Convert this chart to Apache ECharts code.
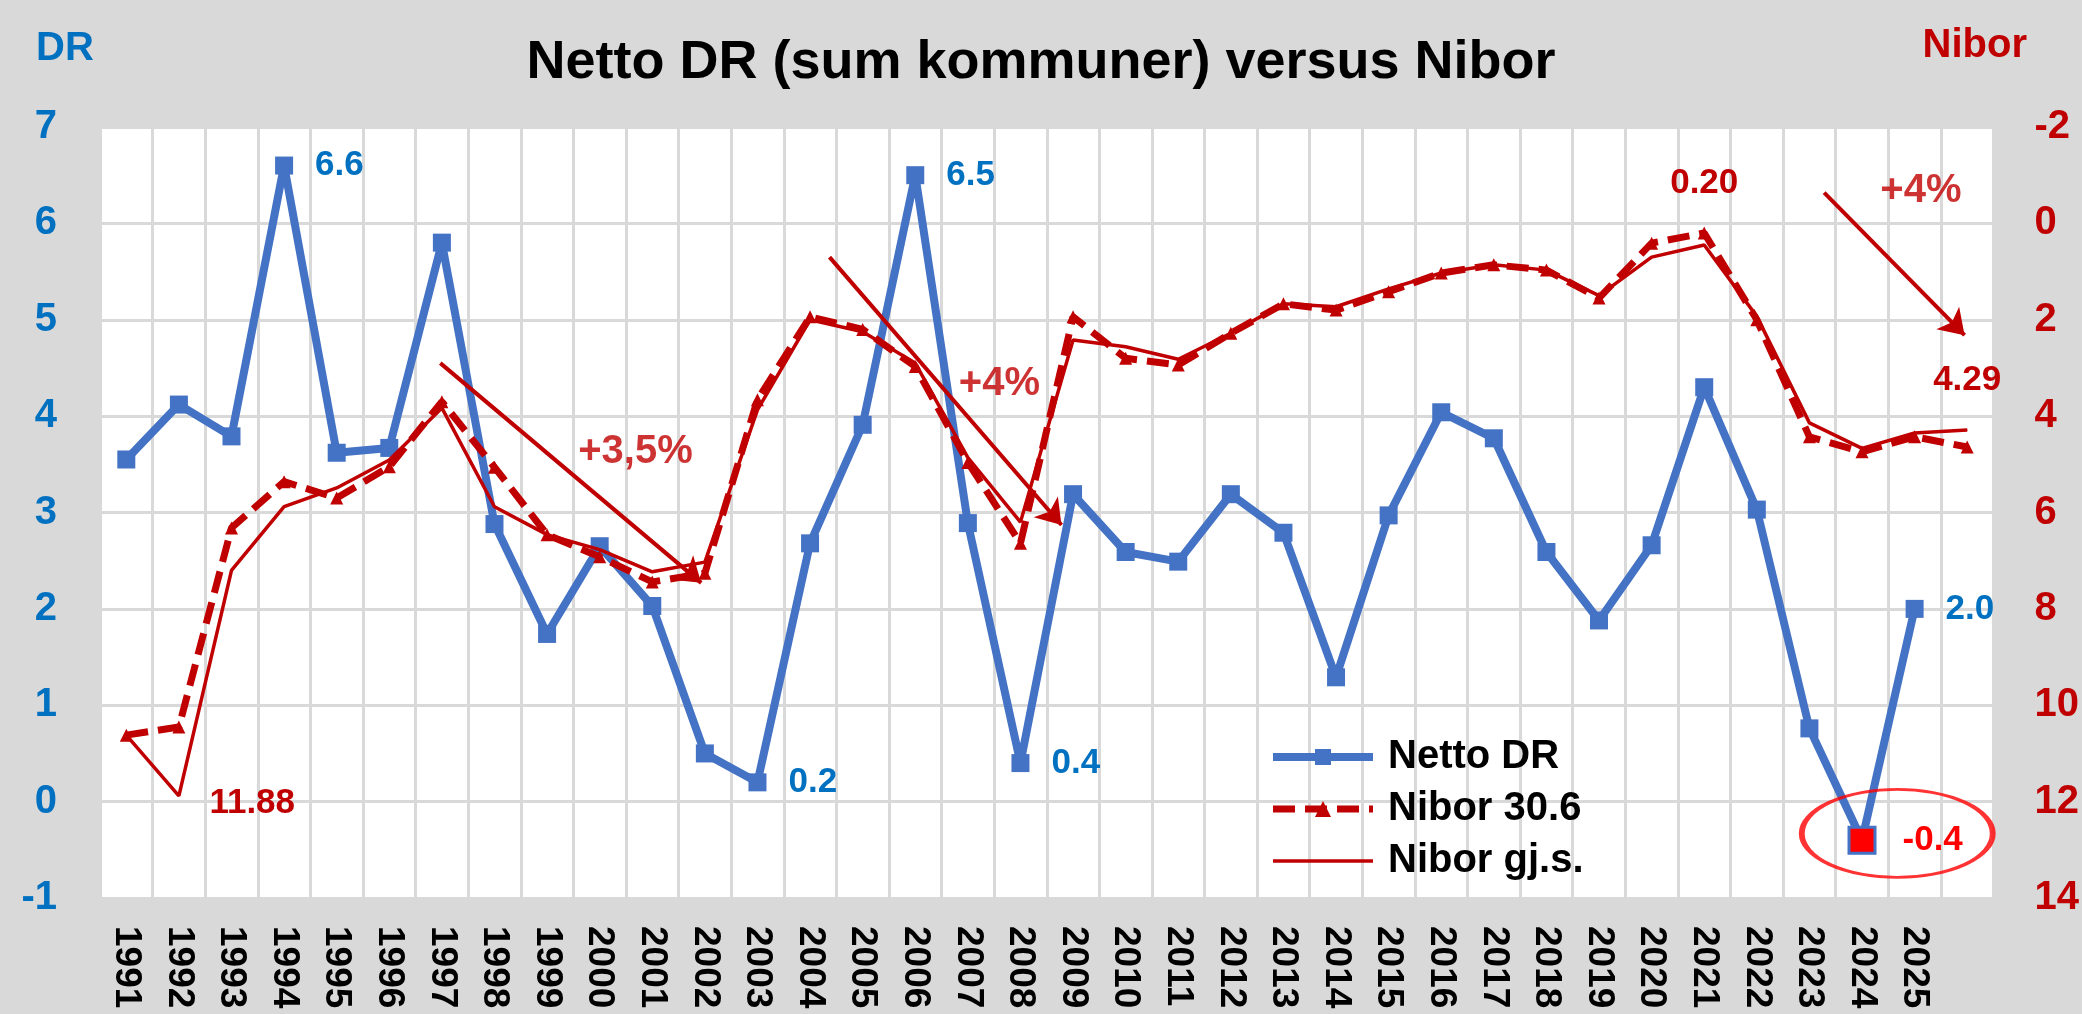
<!DOCTYPE html>
<html>
<head>
<meta charset="utf-8">
<title>Netto DR versus Nibor</title>
<script src="https://cdn.jsdelivr.net/npm/echarts@6/dist/echarts.min.js"></script>
<style>
  html, body { margin: 0; padding: 0; background: #d9d9d9; }
  #chart { width: 2082px; height: 1014px; }
</style>
</head>
<body>
<div id="chart"></div>
<script>
// kategorier (siste kolonne er uten etikett, bare Nibor har verdi der)
const years = ['1991', '1992', '1993', '1994', '1995', '1996', '1997', '1998', '1999', '2000',
  '2001', '2002', '2003', '2004', '2005', '2006', '2007', '2008', '2009', '2010',
  '2011', '2012', '2013', '2014', '2015', '2016', '2017', '2018', '2019', '2020',
  '2021', '2022', '2023', '2024', '2025', '']

// netto driftsresultat, sum kommuner (venstre akse)
const nettoDR = [3.55, 4.12, 3.79, 6.6, 3.62, 3.67, 5.8, 2.88, 1.74, 2.65,
  2.03, 0.5, 0.2, 2.68, 3.91, 6.5, 2.89, 0.4, 3.19, 2.59,
  2.49, 3.19, 2.79, 1.29, 2.97, 4.04, 3.77, 2.59, 1.88, 2.66,
  4.3, 3.03, 0.76, -0.4, 2.0, null]

// Nibor per 30.6 (hoyre akse, invertert)
const nibor306 = [10.62, 10.45, 6.32, 5.36, 5.7, 5.05, 3.7, 5.06, 6.46, 6.92,
  7.44, 7.26, 3.66, 1.94, 2.2, 2.97, 4.96, 6.64, 1.94, 2.8,
  2.94, 2.28, 1.67, 1.8, 1.42, 1.03, 0.86, 0.97, 1.55, 0.41,
  0.20, 2.0, 4.43, 4.74, 4.43, 4.64]

// Nibor gjennomsnitt
const niborSnitt = [10.62, 11.88, 7.2, 5.88, 5.49, 4.91, 3.83, 5.88, 6.46, 6.77,
  7.23, 7.03, 3.87, 2.0, 2.25, 2.9, 4.86, 6.2, 2.42, 2.56,
  2.82, 2.28, 1.67, 1.73, 1.36, 1.03, 0.86, 0.97, 1.5, 0.7,
  0.45, 1.93, 4.14, 4.67, 4.35, 4.29]

// akser
const drMin = -1, drMax = 7, drStep = 1
const niborMin = -2, niborMax = 14, niborStep = 2

// punkter med verdietikett
const drLabelYears = ['1994', '2003', '2006', '2008', '2025']
const drHighlightYear = '2024'
const nibor306LabelYears = ['2021']
const niborSnittLabelYears = ['1992']
const niborSnittTopLabelIdx = years.length - 1

// piler og tekst (x = kategori-indeks, y = DR-enhet)
const trendArrows = [
  [5.97, 4.55, 10.93, 2.27],
  [13.37, 5.65, 17.78, 2.87],
  [32.28, 6.32, 34.95, 4.84]
]
const trendTexts = [
  ['+3,5%', 9.68, 3.63],
  ['+4%', 16.6, 4.33],
  ['+4%', 34.12, 6.34]
]
const circledPoint = [33.67, -0.33]

const FONT = '"Liberation Sans", Arial, sans-serif'
const BLUE = '#4472c4'
const DARKRED = '#c00000'

const chart = echarts.init(document.getElementById('chart'), null, { renderer: 'canvas' })

const drData = nettoDR.map(function (v, i) {
  if (years[i] === drHighlightYear) {
    return {
      value: v,
      symbolSize: 26,
      itemStyle: { color: '#ff0000', borderColor: BLUE, borderWidth: 3 },
      label: { show: true, distance: 26, color: '#ff0000' }
    }
  }
  if (drLabelYears.indexOf(years[i]) >= 0) {
    return { value: v, label: { show: true } }
  }
  return v
})

const dashedData = nibor306.map(function (v, i) {
  if (nibor306LabelYears.indexOf(years[i]) >= 0) {
    return { value: v, label: { show: true } }
  }
  return v
})

const solidData = niborSnitt.map(function (v, i) {
  if (niborSnittLabelYears.indexOf(years[i]) >= 0) {
    return { value: v, symbol: 'circle', symbolSize: 1, label: { show: true, position: 'right', distance: 30, offset: [0, 8] } }
  }
  if (i === niborSnittTopLabelIdx) {
    return { value: v, symbol: 'circle', symbolSize: 1, label: { show: true, position: 'top', distance: 32 } }
  }
  return v
})

const option = {
  animation: false,
  backgroundColor: '#d9d9d9',
  textStyle: { fontFamily: FONT },
  title: [
    {
      text: 'Netto DR (sum kommuner) versus Nibor',
      left: 'center',
      top: 36,
      padding: 0,
      textStyle: { fontSize: 54, fontWeight: 'bold', color: '#000', fontFamily: FONT }
    },
    {
      text: 'DR',
      left: 36,
      top: 29,
      padding: 0,
      textStyle: { fontSize: 40, fontWeight: 'bold', color: '#0070c0', fontFamily: FONT }
    },
    {
      text: 'Nibor',
      right: 55,
      top: 26,
      padding: 0,
      textStyle: { fontSize: 40, fontWeight: 'bold', color: DARKRED, fontFamily: FONT }
    }
  ],
  legend: {
    data: [
      { name: 'Netto DR' },
      { name: 'Nibor 30.6' },
      { name: 'Nibor gj.s.', itemStyle: { opacity: 0 } }
    ],
    orient: 'vertical',
    left: 1269,
    top: 737,
    padding: 0,
    itemWidth: 100,
    itemHeight: 20,
    itemGap: 12,
    selectedMode: false,
    lineStyle: { width: 'inherit' },
    textStyle: { fontSize: 40, fontWeight: 'bold', color: '#000', fontFamily: FONT, padding: [0, 0, 0, 10] }
  },
  grid: {
    left: 100,
    right: 80,
    top: 127,
    bottom: 116,
    show: true,
    backgroundColor: '#fff',
    borderWidth: 0
  },
  xAxis: [
    {
      type: 'category',
      data: years,
      boundaryGap: true,
      axisLine: { show: false },
      axisTick: { show: false },
      axisLabel: {
        interval: 0,
        rotate: -90,
        margin: 28,
        fontSize: 37,
        fontWeight: 'bold',
        color: '#000',
        fontFamily: FONT
      },
      splitLine: { show: true, interval: 0, lineStyle: { color: '#d9d9d9', width: 3 } }
    },
    {
      // skjult verdiakse for piler og tekst
      type: 'value',
      min: -0.5,
      max: years.length - 0.5,
      show: false
    }
  ],
  yAxis: [
    {
      type: 'value',
      position: 'left',
      min: drMin,
      max: drMax,
      interval: drStep,
      axisLine: { show: false },
      axisTick: { show: false },
      axisLabel: { margin: 43, fontSize: 40, fontWeight: 'bold', color: '#0070c0', fontFamily: FONT },
      splitLine: { show: true, lineStyle: { color: '#d9d9d9', width: 3 } }
    },
    {
      type: 'value',
      position: 'right',
      inverse: true,
      min: niborMin,
      max: niborMax,
      interval: niborStep,
      axisLine: { show: false },
      axisTick: { show: false },
      axisLabel: { margin: 41, fontSize: 40, fontWeight: 'bold', color: DARKRED, fontFamily: FONT },
      splitLine: { show: false }
    }
  ],
  series: [
    {
      name: 'Netto DR',
      type: 'line',
      xAxisIndex: 0,
      yAxisIndex: 0,
      data: drData,
      symbol: 'rect',
      symbolSize: 18,
      lineStyle: { color: BLUE, width: 8 },
      itemStyle: { color: BLUE },
      label: {
        show: false,
        position: 'right',
        distance: 22,
        fontSize: 35,
        fontWeight: 'bold',
        color: '#0070c0',
        fontFamily: FONT,
        formatter: function (p) { return p.value.toFixed(1) }
      },
      z: 3
    },
    {
      name: 'Nibor 30.6',
      type: 'line',
      xAxisIndex: 0,
      yAxisIndex: 1,
      data: dashedData,
      symbol: 'triangle',
      symbolSize: 13,
      lineStyle: { color: DARKRED, width: 7, type: [22, 10] },
      itemStyle: { color: DARKRED },
      label: {
        show: false,
        position: 'top',
        distance: 26,
        fontSize: 35,
        fontWeight: 'bold',
        color: DARKRED,
        fontFamily: FONT,
        formatter: function (p) { return p.value.toFixed(2) }
      },
      z: 4
    },
    {
      name: 'Nibor gj.s.',
      type: 'line',
      xAxisIndex: 0,
      yAxisIndex: 1,
      data: solidData,
      symbol: 'none',
      lineStyle: { color: DARKRED, width: 3.5 },
      itemStyle: { color: DARKRED },
      label: {
        show: false,
        fontSize: 35,
        fontWeight: 'bold',
        color: DARKRED,
        fontFamily: FONT,
        formatter: function (p) { return p.value.toFixed(2) }
      },
      z: 4
    },
    {
      name: 'piler',
      type: 'lines',
      coordinateSystem: 'cartesian2d',
      xAxisIndex: 1,
      yAxisIndex: 0,
      symbol: ['none', 'arrow'],
      symbolSize: [16, 24],
      lineStyle: { color: DARKRED, width: 4, opacity: 1 },
      data: trendArrows.map(function (a) { return { coords: [[a[0], a[1]], [a[2], a[3]]] } }),
      z: 5
    },
    {
      name: 'tekst',
      type: 'scatter',
      xAxisIndex: 1,
      yAxisIndex: 0,
      symbolSize: 0,
      data: trendTexts.map(function (t) { return { name: t[0], value: [t[1], t[2]] } }),
      label: {
        show: true,
        position: 'inside',
        formatter: '{b}',
        fontSize: 40,
        fontWeight: 'bold',
        color: DARKRED,
        fontFamily: FONT
      },
      z: 6
    },
    {
      name: 'ring',
      type: 'scatter',
      xAxisIndex: 1,
      yAxisIndex: 0,
      symbol: 'circle',
      symbolSize: [191, 88],
      data: [circledPoint],
      itemStyle: { color: 'rgba(0,0,0,0)', borderColor: '#ff0000', borderWidth: 4 },
      z: 6
    }
  ]
}

chart.setOption(option)
</script>
</body>
</html>
